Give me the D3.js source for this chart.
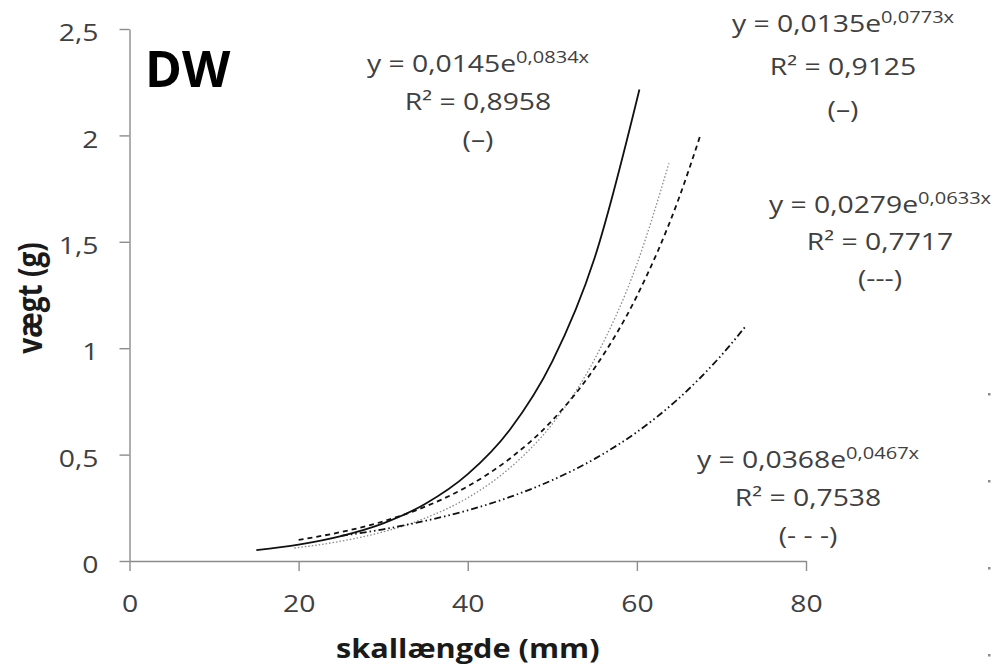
<!DOCTYPE html>
<html>
<head>
<meta charset="utf-8">
<script src="https://cdn.jsdelivr.net/npm/d3@7"></script>
<style>
  body { margin: 0; background: #fff; }
  svg { display: block; font-family: "Open Sans", sans-serif; }
</style>
</head>
<body>
<div class="container"></div>
<script>
// tick values and labels
const xTicks = [0, 20, 40, 60, 80]
const yTicks = [0, 0.5, 1, 1.5, 2, 2.5]
const yTickLabels = ["0", "0,5", "1", "1,5", "2", "2,5"]

// trend curves (skallængde mm -> vægt g)
const solidX = [15, 20, 25, 30, 35, 40, 45, 50, 55, 60.3]
const solidY = [0.051, 0.077, 0.117, 0.177, 0.269, 0.408, 0.618, 0.938, 1.424, 2.216]
const dottedX = [19.5, 25, 30, 35, 40, 45, 50, 55, 60, 63.8]
const dottedY = [0.061, 0.093, 0.137, 0.202, 0.297, 0.438, 0.644, 0.948, 1.395, 1.87]
const dashedX = [20, 25, 30, 35, 40, 45, 50, 55, 60, 65, 67.5]
const dashedY = [0.099, 0.136, 0.186, 0.256, 0.351, 0.482, 0.661, 0.907, 1.245, 1.708, 2.0]
const dashDotX = [25, 30, 35, 40, 45, 50, 55, 60, 65, 70, 72.8]
const dashDotY = [0.118, 0.149, 0.189, 0.238, 0.301, 0.38, 0.48, 0.606, 0.766, 0.967, 1.10]

// equation labels
const eqCoef = ["0,0145", "0,0135", "0,0279", "0,0368"]
const eqExp = ["0,0834x", "0,0773x", "0,0633x", "0,0467x"]
const eqR2 = ["0,8958", "0,9125", "0,7717", "0,7538"]
const eqTag = ["(\u2013)", "(\u2013)", "(---)", "(-  -  -)"]

const width = 992
const height = 670
const stretch = 1.18   // the original picture is a bit wider than tall

const x = d3.scaleLinear().domain([0, 80]).range([129.5, 806])
const y = d3.scaleLinear().domain([0, 2.5]).range([561, 29])

const svg = d3.select(".container").append("svg")
    .attr("width", width)
    .attr("height", height)

// axes
const xAxis = svg.append("g")
    .attr("transform", `translate(0,${y(0)})`)
    .call(d3.axisBottom(x).tickValues(xTicks).tickSize(10).tickSizeOuter(0))
const yAxis = svg.append("g")
    .attr("transform", `translate(${x(0)},0)`)
    .call(d3.axisLeft(y).tickValues(yTicks).tickSize(10).tickSizeOuter(0)
        .tickFormat((d, i) => yTickLabels[i]))

for (const ax of [xAxis, yAxis]) {
    ax.select(".domain").attr("stroke", "#8c8c8c").attr("stroke-width", 1.4)
    ax.selectAll(".tick line").attr("stroke", "#8c8c8c").attr("stroke-width", 1.4)
    ax.selectAll(".tick text")
        .attr("fill", "#404040")
        .style("font-size", "24px")
        .style("font-family", "'Open Sans', sans-serif")
}
xAxis.selectAll(".tick text")
    .attr("x", 0).attr("y", 0).attr("dy", null)
    .attr("transform", `translate(0,51) scale(${stretch},1)`)
yAxis.selectAll(".tick text")
    .attr("x", 0).attr("dy", "0.4em")
    .attr("transform", `translate(-31,2) scale(${stretch},1)`)

// curves
const line = d3.line()
    .x(d => x(d[0]))
    .y(d => y(d[1]))
    .curve(d3.curveMonotoneX)

const series = [
    { xs: dottedX, ys: dottedY, color: "#8a8a8a", w: 1.3, dash: "1.5,2" },
    { xs: dashDotX, ys: dashDotY, color: "#111", w: 1.8, dash: "7,3,1.5,3,1.5,3" },
    { xs: dashedX, ys: dashedY, color: "#111", w: 1.8, dash: "5,4" },
    { xs: solidX, ys: solidY, color: "#111", w: 1.8, dash: null }
]

svg.selectAll("path.curve")
    .data(series)
    .enter()
    .append("path")
    .attr("class", "curve")
    .attr("d", s => line(s.xs.map((v, i) => [v, s.ys[i]])))
    .attr("fill", "none")
    .attr("stroke", s => s.color)
    .attr("stroke-width", s => s.w)
    .attr("stroke-dasharray", s => s.dash)

// equation blocks: [centre x, first baseline, line gap]
const eqPos = [[478, 72, 38], [843, 32, 43], [880, 213, 37], [808, 468, 38]]

eqCoef.forEach((c, i) => {
    const [cx, by, gap] = eqPos[i]
    const g = svg.append("g")
        .attr("transform", `translate(${cx},0) scale(${stretch},1)`)
        .attr("fill", "#404040")
        .style("font-size", "24px")
    const t = g.append("text").attr("y", by).attr("text-anchor", "middle")
    t.append("tspan").text(`y = ${c}e`)
    t.append("tspan").attr("dy", -9).style("font-size", "17px").text(eqExp[i])
    g.append("text").attr("y", by + gap).attr("text-anchor", "middle")
        .text(`R\u00b2 = ${eqR2[i]}`)
    g.append("text").attr("y", by + gap * 2).attr("text-anchor", "middle")
        .text(eqTag[i])
})

// panel label
svg.append("text")
    .attr("x", 145).attr("y", 87)
    .style("font-size", "50px").style("font-weight", "bold")
    .attr("fill", "#000")
    .text("DW")

// axis titles
svg.append("text")
    .attr("transform", `translate(${x(40)},658) scale(${stretch},1)`)
    .attr("text-anchor", "middle")
    .style("font-size", "26px").style("font-weight", "bold")
    .attr("fill", "#1a1a1a")
    .text("skallængde (mm)")

svg.append("text")
    .attr("transform", `translate(42,298) scale(${stretch},1) rotate(-90)`)
    .attr("text-anchor", "middle")
    .style("font-size", "28px").style("font-weight", "bold")
    .attr("fill", "#1a1a1a")
    .text("vægt (g)")

// stray tick marks from the neighbouring panel at the right edge
svg.selectAll("rect.stray")
    .data(d3.range(4))
    .enter()
    .append("rect")
    .attr("class", "stray")
    .attr("x", 988).attr("y", i => 393 + i * 87)
    .attr("width", 2.5).attr("height", 2.5)
    .attr("fill", "#8c8c8c")
</script>
</body>
</html>
